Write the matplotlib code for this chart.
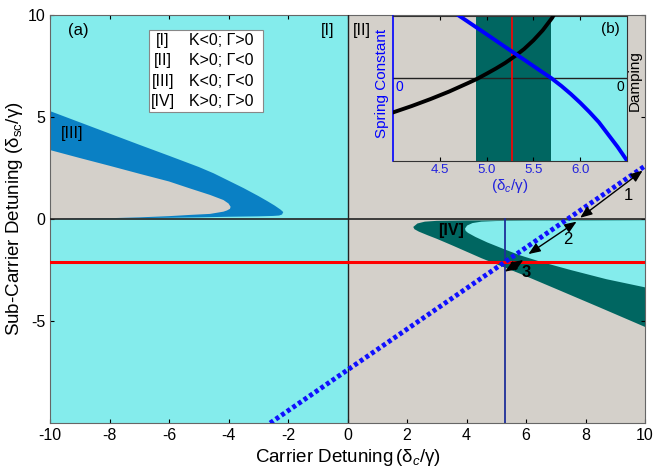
import matplotlib
matplotlib.use("Agg")
import matplotlib.pyplot as plt
from matplotlib.patches import Rectangle

plt.rcParams['font.family'] = ['Liberation Sans', 'DejaVu Sans']
plt.rcParams['mathtext.fontset'] = 'custom'
plt.rcParams['mathtext.rm'] = 'Liberation Sans'
plt.rcParams['mathtext.it'] = 'Liberation Sans:italic'
plt.rcParams['mathtext.bf'] = 'Liberation Sans:bold'
plt.rcParams['axes.unicode_minus'] = False

# ---- colours ----
C_I = '#84ecec'    # K<0; G>0
C_II = '#d4d0ca'   # K>0; G<0
C_III = '#0a80c4'  # K<0; G<0
C_IV = '#006661'   # K>0; G>0

# ---- main panel region boundaries ----
blue3_up_x = [-10, -9, -8, -7, -6, -5, -4.5, -4, -3.5, -3, -2.7, -2.45, -2.25, -2.16]
blue3_up_y = [5.29, 4.74, 4.19, 3.64, 3.1, 2.55, 2.24, 1.88, 1.52, 1.13, 0.88, 0.66, 0.46, 0.34]
blue3_lo_x = [-2.2, -2.3, -2.5, -3, -4, -5, -6, -8, -10]
blue3_lo_y = [0.22, 0.17, 0.15, 0.13, 0.11, 0.08, 0.06, 0.03, 0.0]

gray3_up_x = [-10, -9, -8, -7, -6, -5.3, -4.62, -4.17, -4.0, -3.93]
gray3_up_y = [3.38, 2.99, 2.61, 2.22, 1.84, 1.5, 1.18, 0.93, 0.76, 0.6]
gray3_lo_x = [-3.95, -4.05, -4.17, -4.62, -5.3, -6, -7, -8, -10]
gray3_lo_y = [0.5, 0.42, 0.36, 0.25, 0.2, 0.14, 0.08, 0.04, 0.0]

teal4_up_x = [10, 8, 6, 4, 3, 2.6, 2.35, 2.21]
teal4_up_y = [-0.04, -0.05, -0.06, -0.07, -0.09, -0.13, -0.22, -0.39]
teal4_lo_x = [2.25, 2.4, 2.7, 3.0, 3.5, 4.5, 5.8, 7.0, 8.5, 10]
teal4_lo_y = [-0.5, -0.62, -0.8, -0.97, -1.28, -1.92, -2.68, -3.42, -4.35, -5.29]

cyan4_up_x = [10, 8, 6, 5, 4.5, 4.2, 4.02, 3.95]
cyan4_up_y = [-0.06, -0.07, -0.08, -0.1, -0.13, -0.2, -0.32, -0.47]
cyan4_lo_x = [3.97, 4.05, 4.3, 4.7, 5.3, 5.8, 6.5, 7.5, 8.7, 10]
cyan4_lo_y = [-0.58, -0.68, -0.88, -1.15, -1.5, -1.78, -2.1, -2.5, -2.95, -3.35]

# lines
red_y = -2.1
vline_x = 5.3
dotted_x = [-2.6, 10]
dotted_y = [-10, 2.6]

# arrows (start, end) and labels
arrows = [((9.92, 2.37), (7.82, 0.06)),
          ((7.70, -0.13), (6.08, -1.72)),
          ((5.91, -2.01), (5.29, -2.58))]
arrow_labels = ['1', '2', '3']
arrow_label_pos = [(9.44, 1.15), (7.42, -1.0), (6.0, -2.6)]

x_ticks = [-10, -8, -6, -4, -2, 0, 2, 4, 6, 8, 10]
y_ticks = [-5, 0, 5, 10]

legend_ids = ['[I]', '[II]', '[III]', '[IV]']
legend_txt = ['K<0; \u0393>0', 'K>0; \u0393<0', 'K<0; \u0393<0', 'K>0; \u0393>0']

# ---- inset data ----
inset_band = (4.89, 5.69)
inset_red = 5.27
damp_x = [4.0, 4.2, 4.4, 4.6, 4.8, 4.9, 5.0, 5.1, 5.2, 5.3, 5.4, 5.5, 5.6, 5.7, 5.75]
damp_y = [-2.37, -1.93, -1.45, -0.93, -0.35, -0.05, 0.3, 0.66, 1.05, 1.5, 2.0, 2.6, 3.3, 4.15, 4.7]
spring_x = [4.68, 4.8, 5.0, 5.2, 5.4, 5.6, 5.69, 5.8, 5.9, 6.0, 6.1, 6.2, 6.3, 6.4, 6.49]
spring_y = [4.41, 3.89, 3.02, 2.14, 1.27, 0.39, 0.0, -0.55, -1.1, -1.7, -2.35, -3.05, -3.9, -4.75, -5.6]
inset_xticks = [4.5, 5.0, 5.5, 6.0]

# ---- figure ----
fig = plt.figure(figsize=(6.54, 4.70), dpi=100)
ax = fig.add_axes([50/654, 1-423/470, 595/654, 408/470])
ax.set_xlim(-10, 10)
ax.set_ylim(-10, 10)

ax.axvspan(-10, 0, color=C_I, lw=0, zorder=0)
ax.axvspan(0, 10, color=C_II, lw=0, zorder=0)
ax.fill(blue3_up_x + blue3_lo_x, blue3_up_y + blue3_lo_y, color=C_III, lw=0, zorder=1)
ax.fill(gray3_up_x + gray3_lo_x, gray3_up_y + gray3_lo_y, color=C_II, lw=0, zorder=2)
ax.fill(teal4_up_x + teal4_lo_x, teal4_up_y + teal4_lo_y, color=C_IV, lw=0, zorder=1)
ax.fill(cyan4_up_x + cyan4_lo_x, cyan4_up_y + cyan4_lo_y, color=C_I, lw=0, zorder=2)

ax.axhline(0, color='#222222', lw=1.2, zorder=3)
ax.axvline(0, color='#222222', lw=1.0, zorder=3)
ax.plot([vline_x, vline_x], [0, -10], color='#1f2f9a', lw=1.3, zorder=3)
ax.axhline(red_y, color='#ff0000', lw=2.2, zorder=4)
ax.plot(dotted_x, dotted_y, color='#1010ff', lw=3.5, ls=(0, (0.8, 0.6)), zorder=5)

for (s, e) in arrows:
    ax.annotate('', xy=e, xytext=s,
                arrowprops=dict(arrowstyle='<|-|>,head_length=0.55,head_width=0.22',
                                color='black', lw=1.0,
                                mutation_scale=13, shrinkA=0, shrinkB=0), zorder=6)
for lab, (px, py) in zip(arrow_labels, arrow_label_pos):
    ax.text(px, py, lab, fontsize=12, ha='center', va='center',
            fontweight='bold' if lab == '3' else 'normal', zorder=7)

ax.text(-9.06, 9.26, '(a)', fontsize=12, ha='center', va='center', zorder=7)
ax.text(-0.68, 9.26, '[I]', fontsize=11.5, ha='center', va='center', zorder=7)
ax.text(0.5, 9.26, '[II]', fontsize=11.5, ha='center', va='center', zorder=7)
ax.text(-9.25, 4.2, '[III]', fontsize=11.5, ha='center', va='center', zorder=7)
ax.text(3.48, -0.56, '[IV]', fontsize=11.5, ha='center', va='center',
        fontweight='bold', zorder=7)

# legend box
ax.add_patch(Rectangle((-6.67, 5.25), 3.83, 4.01, facecolor='white',
                       edgecolor='#888888', lw=0.8, zorder=7))
row_y = [8.77, 7.75, 6.76, 5.74]
for lid, lt, ry in zip(legend_ids, legend_txt, row_y):
    ax.text(-6.2, ry, lid, fontsize=11.5, ha='center', va='center', zorder=8)
    ax.text(-5.33, ry, lt, fontsize=11.5, ha='left', va='center', zorder=8)

ax.set_xticks(x_ticks)
ax.set_yticks(y_ticks)
ax.tick_params(direction='in', labelsize=11.5, length=3, top=True, right=True)
for sp in ax.spines.values():
    sp.set_color('#666666')
ax.set_xlabel(r'Carrier Detuning$\,(\mathrm{\delta}_c/\mathrm{\gamma})$', fontsize=13.5, labelpad=3)
ax.set_ylabel(r'Sub-Carrier Detuning $(\mathrm{\delta}_{\mathrm{sc}}/\mathrm{\gamma})$', fontsize=13.5, labelpad=2)

# ---- inset ----
ins = fig.add_axes([393/654, 1-161/470, 234/654, 145/470])
ins.set_xlim(4.0, 6.5)
ins.set_ylim(-5.72, 4.28)
ins.axvspan(4.0, inset_band[0], color=C_II, lw=0, zorder=0)
ins.axvspan(inset_band[0], inset_band[1], color=C_IV, lw=0, zorder=0)
ins.axvspan(inset_band[1], 6.5, color=C_I, lw=0, zorder=0)
ins.axhline(0, color='#222222', lw=1.0, zorder=2)
ins.axvline(inset_red, color='#ff0000', lw=1.2, zorder=2)
ins.plot(damp_x, damp_y, color='black', lw=2.8, zorder=3)
ins.plot(spring_x, spring_y, color='#0000ff', lw=2.8, zorder=3)
ins.set_xticks(inset_xticks)
ins.set_xticklabels(['4.5', '5.0', '5.5', '6.0'])
ins.set_yticks([])
ins.tick_params(axis='x', direction='in', labelsize=9.5, length=3, top=True,
                labelcolor='#2222dd', pad=2)
ins.spines['left'].set_color('#0000ff')
ins.spines['left'].set_linewidth(1.2)
for k in ('top', 'bottom', 'right'):
    ins.spines[k].set_color('#333333')
ins.text(4.03, -0.15, '0', color='#0000ff', fontsize=10, ha='left', va='top')
ins.text(6.47, -0.15, '0', color='black', fontsize=10, ha='right', va='top')
ins.text(6.42, 3.9, '(b)', fontsize=11, ha='right', va='top')
ins.set_xlabel(r'$(\mathrm{\delta}_c/\mathrm{\gamma})$', color='#2222dd', fontsize=11, labelpad=1)
fig.text(381.7/654, 1-83/470, 'Spring Constant', color='#0000ff', fontsize=11,
         rotation=90, ha='center', va='center')
fig.text(635/654, 1-81/470, 'Damping', color='black', fontsize=11,
         rotation=90, ha='center', va='center')

fig.savefig('out.png', dpi=100)
